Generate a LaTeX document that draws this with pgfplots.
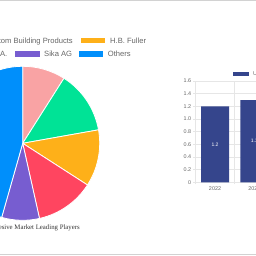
\documentclass[border=0pt]{standalone}
\usepackage{fontspec}
\setmainfont{Liberation Sans}
\newfontfamily\titlefont{Liberation Serif}
\usepackage{pgfplots}
\usepackage{pgfplotstable}
\pgfplotsset{compat=1.18}
\definecolor{cPink}{HTML}{F9A3A4}
\definecolor{cGreen}{HTML}{00E396}
\definecolor{cOrange}{HTML}{FEB019}
\definecolor{cRed}{HTML}{FF4560}
\definecolor{cPurple}{HTML}{775DD0}
\definecolor{cBlue}{HTML}{008FFB}
\definecolor{cBar}{HTML}{35458C}
\definecolor{cText}{HTML}{666666}
\definecolor{cGrid}{HTML}{E6E6E6}
\pgfplotstableread{
year value
0 1.2
1 1.3
}\bardata
\begin{document}
\begin{tikzpicture}
\useasboundingbox (0,0) rectangle (256pt,256pt);
\begin{scope}
\clip (0,0) rectangle (256pt,256pt);
% pie chart (axis units = pt)
\begin{axis}[at={(0pt,0pt)}, anchor=south west, scale only axis, hide axis,
  x=1pt, y=1pt, xmin=0, xmax=256, ymin=0, ymax=256, clip=true]
\foreach \sa/\sb/\sc in {0/9.0/cPink, 9.0/22.2/cGreen, 22.2/34.1/cOrange, 34.1/46.5/cRed, 46.5/54.4/cPurple, 54.4/100/cBlue}{
  \edef\slice{\noexpand\filldraw[fill=\sc, draw=white, line width=0.8pt] (axis cs:22.7,112.7) -- ++({90-3.6*\sa}:77pt) arc[start angle={90-3.6*\sa}, end angle={90-3.6*\sb}, radius=77pt] -- cycle;}
  \slice
}
\end{axis}
% bar chart
\begin{axis}[at={(195.3pt,73.7pt)}, anchor=south west, scale only axis,
  x=39.4pt, y=63.3pt, xmin=-0.5, xmax=6.5, ymin=0, ymax=1.6,
  axis line style={draw=none},
  ytick={0,0.2,0.4,0.6,0.8,1.0,1.2,1.4,1.6},
  yticklabels={0,0.2,0.4,0.6,0.8,1.0,1.2,1.4,1.6},
  xtick={-0.5,0.5,1.5,2.5,3.5,4.5,5.5,6.5}, xticklabels={},
  extra x ticks={0,1}, extra x tick labels={2022,2023},
  extra x tick style={major tick length=0pt, grid=none},
  xmajorgrids, ymajorgrids,
  grid style={draw=cGrid, line width=0.6pt},
  tick style={draw=cGrid, line width=0.6pt},
  tick align=outside, major tick length=2pt,
  xtick pos=bottom, ytick pos=left,
  tick label style={font=\fontsize{5.4}{6}\selectfont, text=cText},
  yticklabel style={inner sep=0pt, anchor=east, xshift=-2pt},
  xticklabel style={inner sep=0pt, anchor=north, yshift=-4pt},
  /pgf/number format/assume math mode=true,
  clip=false]
\addplot[ybar, bar width=28pt, fill=cBar, draw=none,
  nodes near coords, visualization depends on={y \as \rawy},
  every node near coord/.append style={anchor=center, yshift=-\rawy*31.65pt, text=white, font=\fontsize{5}{6}\selectfont}]
  table[x=year, y=value]{\bardata};
\end{axis}
% pie legend
\begin{scope}[font=\fontsize{7.6}{9}\selectfont, text=cText]
\node[anchor=base east, inner sep=0pt] at (73pt,212.6pt) {Custom Building Products};
\fill[cOrange] (81pt,212.7pt) rectangle (105pt,218.3pt);
\node[anchor=base west, inner sep=0pt] at (110pt,212.6pt) {H.B. Fuller};
\node[anchor=base east, inner sep=0pt] at (7.5pt,199pt) {Mapei S.p.A.};
\fill[cPurple] (15pt,199pt) rectangle (39.7pt,204.6pt);
\node[anchor=base west, inner sep=0pt] at (44pt,199pt) {Sika AG};
\fill[cBlue] (78.7pt,199pt) rectangle (102.7pt,204.6pt);
\node[anchor=base west, inner sep=0pt] at (107.7pt,199pt) {Others};
\end{scope}
\node[anchor=base east, inner sep=0pt, text=black!80, font=\titlefont\fontsize{6.8}{8}\selectfont] at (80pt,26.5pt) {Tile Adhesive Market Leading Players};
% bar legend
\fill[cBar] (232.7pt,180pt) rectangle (249.3pt,184pt);
\node[anchor=base west, inner sep=0pt, text=cText, font=\fontsize{5.5}{6}\selectfont] at (253pt,180pt) {USD Billion};
% frame lines
\draw[cGrid!80!gray, line width=1pt] (0,255.5pt) -- (256pt,255.5pt);
\draw[cGrid!80!gray, line width=1pt] (0,1pt) -- (256pt,1pt);
\end{scope}
\end{tikzpicture}
\end{document}
